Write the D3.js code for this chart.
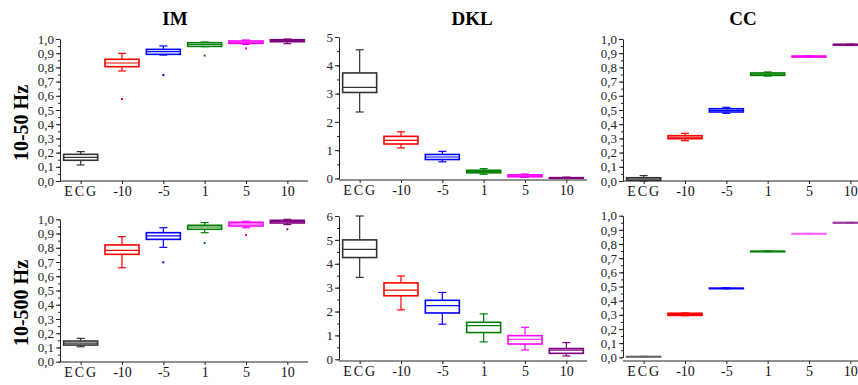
<!DOCTYPE html>
<html>
<head>
<meta charset="utf-8">
<script src="https://cdn.jsdelivr.net/npm/d3@7"></script>
<style>
  body { margin: 0; background: #fff; }
  svg { display: block; font-family: "Liberation Serif", "Times New Roman", serif; }
  .axis path, .axis line { stroke: #222; }
</style>
</head>
<body>
<div id="chart"></div>
<script>
const categories = ['ECG', '-10', '-5', '1', '5', '10'];
const colors = ['#333333', '#ff0000', '#0000ff', '#008000', '#ff00ff', '#800080'];
const metrics = ['IM', 'DKL', 'CC'];
const bands = ['10-50 Hz', '10-500 Hz'];

// rows: [whisker low, q1, median, q3, whisker high] per category
const im50 = [
  [0.113, 0.146, 0.167, 0.188, 0.207],
  [0.775, 0.805, 0.831, 0.857, 0.899],
  [0.887, 0.892, 0.911, 0.927, 0.951],
  [0.946, 0.948, 0.962, 0.974, 0.979],
  [0.962, 0.969, 0.977, 0.986, 0.993],
  [0.967, 0.981, 0.988, 0.995, 1.0]
];
const im50Out = [[], [0.577], [0.746], [0.883], [0.934], []];

const dkl50 = [
  [2.35, 3.04, 3.22, 3.73, 4.55],
  [1.08, 1.22, 1.35, 1.49, 1.65],
  [0.59, 0.67, 0.76, 0.85, 0.96],
  [0.15, 0.20, 0.25, 0.29, 0.35],
  [0.04, 0.06, 0.09, 0.13, 0.16],
  [0.0, 0.01, 0.02, 0.03, 0.05]
];
const dkl50Out = [[], [], [], [], [], []];

const cc50 = [
  [0.0, 0.005, 0.014, 0.023, 0.038],
  [0.284, 0.298, 0.308, 0.319, 0.336],
  [0.477, 0.486, 0.498, 0.509, 0.519],
  [0.739, 0.744, 0.752, 0.761, 0.768],
  [0.872, 0.873, 0.877, 0.880, 0.881],
  [0.956, 0.957, 0.960, 0.963, 0.964]
];
const cc50Out = [[], [], [], [], [], []];

const im500 = [
  [0.105, 0.117, 0.131, 0.145, 0.164],
  [0.66, 0.754, 0.782, 0.82, 0.878],
  [0.803, 0.859, 0.883, 0.906, 0.941],
  [0.906, 0.93, 0.946, 0.958, 0.977],
  [0.941, 0.953, 0.967, 0.979, 0.986],
  [0.963, 0.974, 0.984, 0.993, 1.0]
];
const im500Out = [[], [], [0.698], [0.834], [0.89], [0.93]];

const dkl500 = [
  [3.43, 4.26, 4.6, 5.0, 6.0],
  [2.07, 2.66, 2.9, 3.2, 3.49],
  [1.47, 1.94, 2.25, 2.47, 2.8],
  [0.73, 1.12, 1.41, 1.55, 1.9],
  [0.39, 0.64, 0.84, 0.99, 1.34],
  [0.14, 0.25, 0.38, 0.45, 0.7]
];
const dkl500Out = [[], [], [], [], [], []];

const cc500 = [
  [0.003, 0.004, 0.005, 0.006, 0.007],
  [0.294, 0.296, 0.303, 0.311, 0.313],
  [0.484, 0.486, 0.487, 0.488, 0.491],
  [0.746, 0.747, 0.748, 0.749, 0.751],
  [0.871, 0.872, 0.873, 0.874, 0.875],
  [0.949, 0.950, 0.951, 0.952, 0.953]
];
const cc500Out = [[], [], [], [], [], []];

const cc500Colors = ['#666666', '#ff0000', '#0000ff', '#008000', '#ff66ff', '#993399'];

// panel layout
const panels = [
  { data: im50, out: im50Out, max: 1, major: 0.1, minor: 0.05, dec: 1, x0: 60, y0: 181, y1: 39, axisY: 181 },
  { data: dkl50, out: dkl50Out, max: 5, major: 1, minor: 0.5, dec: 0, x0: 339, y0: 178.5, y1: 37, axisY: 180 },
  { data: cc50, out: cc50Out, max: 1, major: 0.1, minor: 0.05, dec: 1, x0: 623, y0: 181, y1: 39, axisY: 181 },
  { data: im500, out: im500Out, max: 1, major: 0.1, minor: 0.05, dec: 1, x0: 60, y0: 361.7, y1: 219.3, axisY: 362 },
  { data: dkl500, out: dkl500Out, max: 6, major: 1, minor: 0.5, dec: 0, x0: 339, y0: 359.3, y1: 216, axisY: 361 },
  { data: cc500, out: cc500Out, max: 1, major: 0.1, minor: 0.05, dec: 1, x0: 623, y0: 357.3, y1: 215.7, axisY: 361, colors: cc500Colors }
];
const panelWidth = 248;
const serif = '"Liberation Serif", "Times New Roman", serif';

const width = 858, height = 385;
const svg = d3.select('#chart').append('svg')
  .attr('width', width)
  .attr('height', height);

svg.append('rect').attr('width', width).attr('height', height).attr('fill', '#fff');

// column titles
const titleX = [175, 472, 743];
metrics.forEach((m, i) => {
  svg.append('text')
    .attr('x', titleX[i]).attr('y', 25)
    .attr('text-anchor', 'middle')
    .attr('font-family', serif)
    .style('font-size', '19px').style('font-weight', 'bold')
    .text(m);
});

// row labels
const rowY = [123, 303];
bands.forEach((b, i) => {
  svg.append('text')
    .attr('transform', `translate(21,${rowY[i]}) rotate(-90)`)
    .attr('text-anchor', 'middle')
    .attr('dominant-baseline', 'central')
    .attr('font-family', serif)
    .style('font-size', '20px').style('font-weight', 'bold')
    .text(b);
});

panels.forEach(p => {
  const x = d3.scalePoint().domain(categories).range([p.x0, p.x0 + panelWidth]).padding(0.5);
  const y = d3.scaleLinear().domain([0, p.max]).range([p.y0, p.y1]);
  const cols = p.colors || colors;
  const g = svg.append('g');

  const fmt = v => d3.format(`.${p.dec}f`)(v).replace('.', ',');
  const majors = d3.range(0, p.max + p.major / 2, p.major);
  const minors = d3.range(0, p.max + 1e-9, p.minor);

  // minor ticks
  g.append('g').attr('class', 'axis')
    .attr('transform', `translate(${p.x0},0)`)
    .call(d3.axisLeft(y).tickValues(minors).tickSize(2).tickFormat(''))
    .call(s => s.select('.domain').remove());

  g.append('g').attr('class', 'axis')
    .attr('transform', `translate(${p.x0},0)`)
    .call(d3.axisLeft(y).tickValues(majors).tickSize(4).tickPadding(2).tickFormat(fmt).tickSizeOuter(0))
    .attr('font-family', serif).attr('font-size', 13)
    .call(s => s.selectAll('text').attr('fill', '#222'));

  const xa = g.append('g').attr('class', 'axis')
    .attr('transform', `translate(0,${p.axisY})`)
    .call(d3.axisBottom(x).tickSize(3).tickPadding(2).tickSizeOuter(0))
    .attr('font-family', serif).attr('font-size', 14);
  xa.select('.domain').attr('d', `M${p.x0},0H${p.x0 + panelWidth}`);
  xa.selectAll('text').attr('fill', '#111').style('letter-spacing', d => d === 'ECG' ? '2px' : '0px');

  const bw = 34, cap = 4;
  p.data.forEach((d, i) => {
    const cx = x(categories[i]);
    const c = cols[i];
    const bx = g.append('g').attr('stroke', c).attr('fill', 'none');
    bx.append('line').attr('x1', cx).attr('x2', cx).attr('y1', y(d[0])).attr('y2', y(d[1])).attr('stroke-width', 1.2);
    bx.append('line').attr('x1', cx).attr('x2', cx).attr('y1', y(d[3])).attr('y2', y(d[4])).attr('stroke-width', 1.2);
    bx.append('line').attr('x1', cx - cap).attr('x2', cx + cap).attr('y1', y(d[0])).attr('y2', y(d[0])).attr('stroke-width', 1.2);
    bx.append('line').attr('x1', cx - cap).attr('x2', cx + cap).attr('y1', y(d[4])).attr('y2', y(d[4])).attr('stroke-width', 1.2);
    bx.append('rect')
      .attr('x', cx - bw / 2).attr('width', bw)
      .attr('y', y(d[3])).attr('height', Math.max(0.5, y(d[1]) - y(d[3])))
      .attr('fill', '#fff').attr('stroke-width', 1.6);
    bx.append('line').attr('x1', cx - bw / 2).attr('x2', cx + bw / 2)
      .attr('y1', y(d[2])).attr('y2', y(d[2])).attr('stroke-width', 1.2);
    p.out[i].forEach(o => {
      g.append('rect').attr('x', cx - 1).attr('y', y(o) - 1).attr('width', 2).attr('height', 2).attr('fill', c);
    });
  });
});
</script>
</body>
</html>
